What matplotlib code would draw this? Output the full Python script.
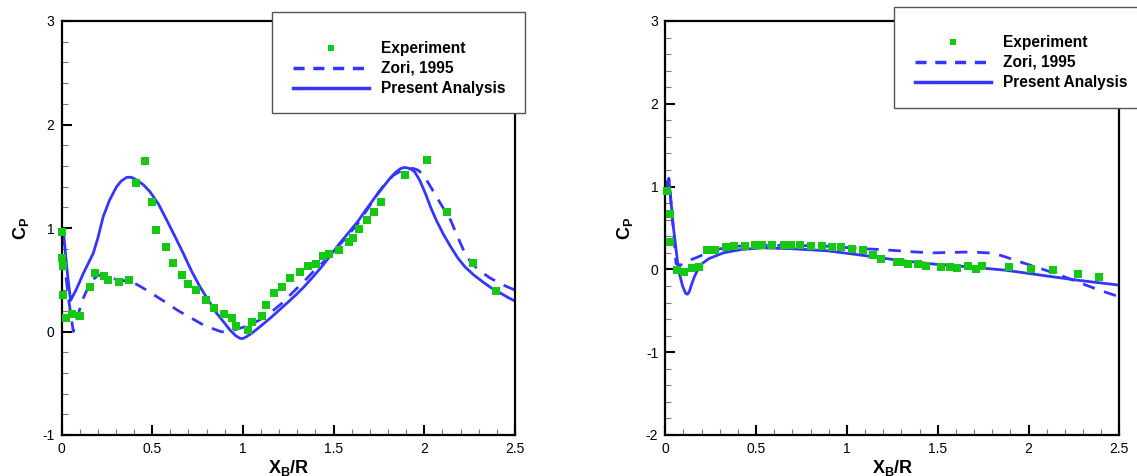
import matplotlib
matplotlib.use('Agg')
import matplotlib.pyplot as plt
from matplotlib.patches import Rectangle
from matplotlib.ticker import MultipleLocator
from matplotlib.lines import Line2D

plt.rcParams['font.family'] = ['Liberation Sans', 'DejaVu Sans']
plt.rcParams['mathtext.fontset'] = 'custom'
plt.rcParams['mathtext.bf'] = 'Liberation Sans:bold'
plt.rcParams['mathtext.rm'] = 'Liberation Sans'

BLUE = '#3535ff'
GREEN = '#14c814'

# ---- left panel data ----
left_exp_x = [0.0, 0.0, 0.01, 0.01, 0.024, 0.059, 0.103, 0.158, 0.187, 0.233, 0.256, 0.316,
              0.371, 0.41, 0.458, 0.501, 0.523, 0.576, 0.612, 0.667, 0.70, 0.742, 0.797,
              0.842, 0.896, 0.939, 0.961, 1.026, 1.05, 1.107, 1.129, 1.174, 1.218, 1.261,
              1.316, 1.36, 1.403, 1.444, 1.474, 1.529, 1.583, 1.606, 1.64, 1.683, 1.725,
              1.76, 1.894, 2.015, 2.123, 2.269, 2.397]
left_exp_y = [0.957, 0.71, 0.63, 0.35, 0.126, 0.165, 0.15, 0.43, 0.57, 0.535, 0.493, 0.477,
              0.493, 1.433, 1.648, 1.25, 0.979, 0.818, 0.664, 0.545, 0.455, 0.40, 0.303,
              0.223, 0.168, 0.126, 0.055, 0.013, 0.09, 0.152, 0.255, 0.374, 0.432, 0.519,
              0.577, 0.635, 0.657, 0.728, 0.747, 0.786, 0.86, 0.908, 0.986, 1.082, 1.156,
              1.253, 1.513, 1.658, 1.153, 0.664, 0.39]

left_zori_x = [0.0, 0.01, 0.02, 0.04, 0.065, 0.09, 0.112, 0.14, 0.172, 0.2, 0.231, 0.27,
               0.31, 0.35, 0.389, 0.44, 0.487, 0.54, 0.586, 0.635, 0.684, 0.735, 0.783,
               0.83, 0.882, 0.92, 0.961, 1.0, 1.04, 1.1, 1.158, 1.22, 1.276, 1.335, 1.394,
               1.455, 1.513, 1.57, 1.632, 1.69, 1.75, 1.79, 1.83, 1.87, 1.908, 1.94, 1.967,
               2.0, 2.046, 2.095, 2.145, 2.185, 2.224, 2.26, 2.303, 2.36, 2.421, 2.46, 2.5]
left_zori_y = [0.95, 0.80, 0.60, 0.30, 0.0, 0.15, 0.29, 0.40, 0.50, 0.54, 0.545, 0.52,
               0.50, 0.49, 0.48, 0.43, 0.38, 0.32, 0.27, 0.21, 0.16, 0.11, 0.062,
               0.03, -0.003, 0.005, 0.02, 0.04, 0.062, 0.12, 0.19, 0.28, 0.38, 0.48, 0.59,
               0.69, 0.80, 0.91, 1.04, 1.19, 1.35, 1.44, 1.51, 1.55, 1.574, 1.575, 1.558,
               1.50, 1.365, 1.22, 1.076, 0.91, 0.755, 0.66, 0.59, 0.52, 0.46, 0.43, 0.40]

left_pa_x = [0.0, 0.01, 0.03, 0.05, 0.08, 0.12, 0.175, 0.2, 0.23, 0.265, 0.304, 0.33, 0.36,
             0.385, 0.414, 0.45, 0.488, 0.535, 0.58, 0.625, 0.671, 0.715, 0.763, 0.81,
             0.856, 0.895, 0.929, 0.96, 0.984, 1.0, 1.02, 1.05, 1.094, 1.158, 1.24, 1.29,
             1.336, 1.385, 1.434, 1.485, 1.533, 1.585, 1.632, 1.68, 1.73, 1.77, 1.81, 1.84,
             1.869, 1.89, 1.908, 1.93, 1.948, 1.975, 2.007, 2.035, 2.066, 2.105, 2.145,
             2.185, 2.224, 2.27, 2.322, 2.37, 2.421, 2.46, 2.5]
left_pa_y = [1.0, 0.98, 0.60, 0.30, 0.40, 0.56, 0.756, 0.90, 1.11, 1.27, 1.40, 1.455, 1.49,
             1.49, 1.464, 1.42, 1.35, 1.23, 1.077, 0.92, 0.756, 0.59, 0.433, 0.30,
             0.175, 0.09, 0.014, -0.04, -0.066, -0.068, -0.05, -0.015, 0.046, 0.14, 0.27,
             0.35, 0.43, 0.525, 0.625, 0.74, 0.85, 0.96, 1.06, 1.18, 1.30, 1.39, 1.478,
             1.535, 1.574, 1.585, 1.58, 1.565, 1.54, 1.46, 1.33, 1.20, 1.076, 0.94, 0.82,
             0.71, 0.625, 0.55, 0.48, 0.42, 0.37, 0.33, 0.294]

# ---- right panel data ----
right_exp_x = [0.008, 0.028, 0.028, 0.063, 0.102, 0.148, 0.185, 0.232, 0.276, 0.335, 0.378,
               0.437, 0.492, 0.535, 0.585, 0.654, 0.693, 0.742, 0.80, 0.864, 0.919, 0.968,
               1.028, 1.087, 1.146, 1.189, 1.274, 1.293, 1.339, 1.392, 1.437, 1.52, 1.565,
               1.608, 1.668, 1.71, 1.742, 1.89, 2.012, 2.136, 2.273, 2.386]
right_exp_y = [0.946, 0.67, 0.325, -0.01, -0.03, 0.02, 0.03, 0.24, 0.24, 0.27, 0.284,
               0.28, 0.30, 0.29, 0.30, 0.30, 0.29, 0.29, 0.28, 0.28, 0.27, 0.27,
               0.25, 0.232, 0.17, 0.13, 0.09, 0.09, 0.07, 0.063, 0.043, 0.03, 0.03,
               0.015, 0.04, 0.0, 0.043, 0.03, 0.007, -0.01, -0.05, -0.09]

right_zori_x = [0.0, 0.02, 0.043, 0.059, 0.083, 0.122, 0.18, 0.26, 0.33, 0.398, 0.5, 0.594,
                0.7, 0.8, 0.89, 0.99, 1.087, 1.185, 1.283, 1.38, 1.48, 1.58, 1.677, 1.776,
                1.83, 1.874, 1.94, 2.012, 2.08, 2.15, 2.21, 2.268, 2.366, 2.43, 2.5]
right_zori_y = [1.0, 1.1, 0.51, 0.07, 0.05, 0.10, 0.15, 0.23, 0.26, 0.28, 0.29, 0.29,
                0.29, 0.285, 0.28, 0.265, 0.25, 0.24, 0.225, 0.21, 0.20, 0.205, 0.21, 0.20,
                0.18, 0.15, 0.10, 0.05, 0.0, -0.05, -0.10, -0.15, -0.23, -0.28, -0.33]

right_pa_x = [0.0, 0.02, 0.045, 0.073, 0.095, 0.112, 0.122, 0.132, 0.145, 0.16, 0.19, 0.24,
              0.32, 0.417, 0.535, 0.693, 0.89, 1.087, 1.283, 1.48, 1.677, 1.874, 2.07,
              2.268, 2.5]
right_pa_y = [0.955, 1.08, 0.50, -0.01, -0.20, -0.29, -0.30, -0.27, -0.18, -0.09, 0.05, 0.13,
              0.20, 0.24, 0.26, 0.25, 0.225, 0.17, 0.11, 0.064, 0.03, -0.01, -0.07,
              -0.13, -0.19]

labels = ['Experiment', 'Zori, 1995', 'Present Analysis']

fig = plt.figure(figsize=(11.37, 4.76), dpi=100)
W, H = 1137.0, 476.0


def px_rect(x0, x1, ytop, ybot):
    return [x0 / W, 1 - ybot / H, (x1 - x0) / W, (ybot - ytop) / H]


def setup_axes(ax, ylo, yhi):
    ax.set_xlim(0, 2.5)
    ax.set_ylim(ylo, yhi)
    ax.xaxis.set_major_locator(MultipleLocator(0.5))
    ax.xaxis.set_minor_locator(MultipleLocator(0.1))
    ax.yaxis.set_major_locator(MultipleLocator(1))
    ax.yaxis.set_minor_locator(MultipleLocator(0.2))
    ax.xaxis.set_major_formatter(plt.FuncFormatter(lambda v, p: ('%g' % v)))
    ax.yaxis.set_major_formatter(plt.FuncFormatter(lambda v, p: ('%g' % v)))
    ax.tick_params(which='both', direction='in', top=False, right=False, labelsize=10)
    ax.tick_params(which='major', length=7, width=1.5, pad=5)
    ax.tick_params(which='minor', length=4, width=0.8, color='#777777')
    for s in ax.spines.values():
        s.set_linewidth(1.6)
    ax.set_xlabel(r'$\mathbf{X_B/R}$', fontsize=13, labelpad=1.5)
    ax.set_ylabel(r'$\mathbf{C_P}$', fontsize=13, labelpad=8)


def draw(ax, ex, ey, zx, zy, px, py):
    ax.plot(zx, zy, color=BLUE, lw=2, dashes=(4.5, 3.5))
    ax.plot(px, py, color=BLUE, lw=2)
    ax.plot(ex, ey, 's', color=GREEN, ms=5.3, mew=0, clip_on=False, zorder=3)


def legend_box(ax, x0, x1, ytop, ybot, hx, hy):
    r = Rectangle((x0 / W, 1 - ybot / H), (x1 - x0) / W, (ybot - ytop) / H,
                  transform=fig.transFigure, facecolor='white', edgecolor='#555555',
                  lw=1, zorder=10)
    fig.add_artist(r)
    handles = [Line2D([], [], ls='none', marker='s', color=GREEN, ms=5, mew=0),
               Line2D([], [], color=BLUE, lw=2.5, dashes=(3.2, 2.5)),
               Line2D([], [], color=BLUE, lw=2.5)]
    leg = fig.legend(handles, labels, loc='upper left', bbox_to_anchor=(hx / W, 1 - hy / H),
                     frameon=False, borderpad=0, borderaxespad=0, handlelength=4.9,
                     handletextpad=0.75, labelspacing=0.32,
                     prop={'weight': 'bold', 'size': 11.2})
    leg.set_zorder(11)


axL = fig.add_axes(px_rect(61.5, 515, 21, 435))
setup_axes(axL, -1, 3)
draw(axL, left_exp_x, left_exp_y, left_zori_x, left_zori_y, left_pa_x, left_pa_y)

axR = fig.add_axes(px_rect(665.3, 1119.3, 21, 435))
setup_axes(axR, -2, 3)
draw(axR, right_exp_x, right_exp_y, right_zori_x, right_zori_y, right_pa_x, right_pa_y)

legend_box(axL, 272, 525, 12, 113, 293, 41)
legend_box(axR, 894, 1145, 7, 108, 915, 35)

fig.savefig('out.png', dpi=100)
